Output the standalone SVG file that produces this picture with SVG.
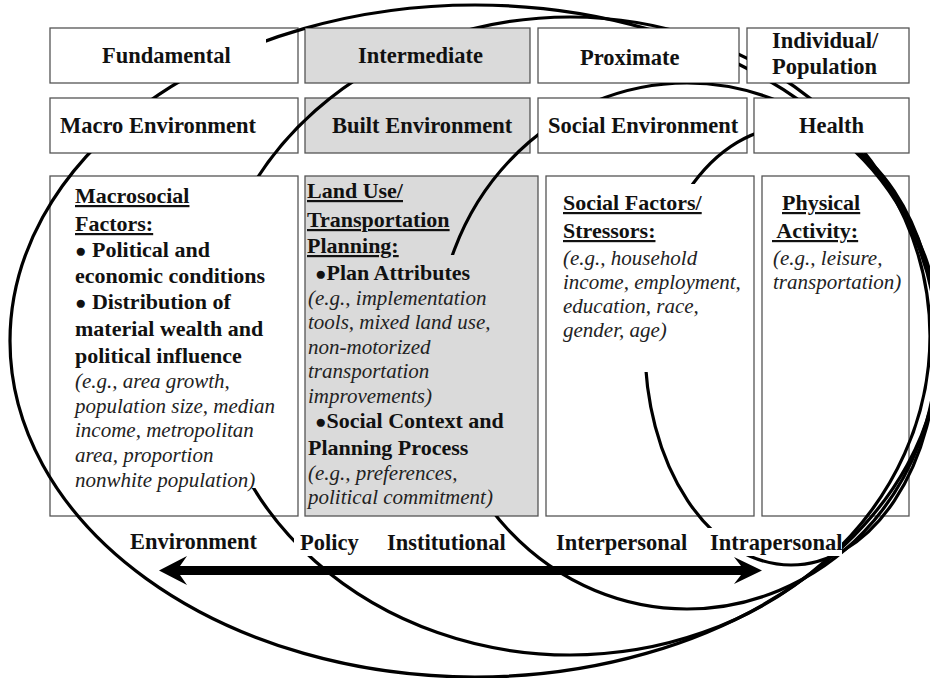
<svg xmlns="http://www.w3.org/2000/svg" width="930" height="678" viewBox="0 0 930 678">
<style>
.box{fill:#fff;stroke:#555;stroke-width:1.3}
.grey{fill:#dadada}
text{font-family:"Liberation Serif","Times New Roman",serif;fill:#111}
.h{font-weight:bold;font-size:22.5px}
.b{font-weight:bold;font-size:22px}
.u{text-decoration:underline}
.i{font-style:italic;font-size:21px;fill:#222}
.bl{font-size:19px}
.ring{fill:none;stroke:#000;stroke-width:3.2}
</style>
<defs>
<mask id="hide" maskUnits="userSpaceOnUse" x="0" y="0" width="930" height="678">
<rect x="0" y="0" width="930" height="678" fill="#fff"/>
<g fill="#000">
<rect x="50" y="28" width="216" height="55"/>
<rect x="266" y="45" width="32" height="38"/>
<rect x="305" y="28" width="225" height="55"/>
<rect x="538" y="28" width="201" height="55"/>
<rect x="747" y="28" width="162" height="55"/>
<rect x="50" y="98" width="220" height="55"/>
<rect x="338" y="98" width="176" height="55"/>
<rect x="538" y="98" width="180" height="55"/>
<rect x="754" y="98" width="155" height="55"/>
<rect x="80" y="176" width="218" height="312"/>
<rect x="80" y="488" width="168" height="28"/>
<rect x="305" y="255" width="233" height="261"/>
<rect x="546" y="184" width="208" height="188"/>
<rect x="294" y="532" width="68" height="24"/>
<rect x="706" y="528" width="136" height="28"/>
</g>
</mask>
</defs>

<g id="fundamental"><rect class="box" x="50" y="28" width="248" height="55"/><text class="h" x="102" y="63">Fundamental</text></g>
<g id="intermediate"><rect class="box grey" x="305" y="28" width="225" height="55"/><text class="h" x="358" y="63">Intermediate</text></g>
<g id="proximate"><rect class="box" x="538" y="28" width="201" height="55"/><text class="h" x="580" y="65">Proximate</text></g>
<g id="individual"><rect class="box" x="747" y="28" width="162" height="55"/><text class="h" x="772" y="48">Individual/</text><text class="h" x="772" y="74">Population</text></g>

<g id="macro-env"><rect class="box" x="50" y="98" width="248" height="55"/><text class="h" x="60" y="133">Macro Environment</text></g>
<g id="built-env"><rect class="box grey" x="305" y="98" width="225" height="55"/><text class="h" x="332" y="133">Built Environment</text></g>
<g id="social-env"><rect class="box" x="538" y="98" width="209" height="55"/><text class="h" x="548" y="133">Social Environment</text></g>
<g id="health"><rect class="box" x="754" y="98" width="155" height="55"/><text class="h" x="799" y="133">Health</text></g>

<g id="macrosocial"><rect class="box" x="50" y="176" width="248" height="340"/>
<text class="b u" x="75" y="203">Macrosocial</text>
<text class="b u" x="75" y="231">Factors:</text>
<text class="b" x="75" y="257"><tspan class="bl">●</tspan> Political and</text>
<text class="b" x="75" y="283">economic conditions</text>
<text class="b" x="75" y="309"><tspan class="bl">●</tspan> Distribution of</text>
<text class="b" x="75" y="336">material wealth and</text>
<text class="b" x="75" y="363">political influence</text>
<text class="i" x="75" y="388">(e.g., area growth,</text>
<text class="i" x="75" y="413">population size, median</text>
<text class="i" x="75" y="437">income, metropolitan</text>
<text class="i" x="75" y="462">area, proportion</text>
<text class="i" x="75" y="487">nonwhite population)</text>
</g>

<g id="land-use"><rect class="box grey" x="305" y="176" width="233" height="340"/>
<text class="b u" x="307" y="198">Land Use/</text>
<text class="b u" x="307" y="227">Transportation</text>
<text class="b u" x="307" y="253">Planning:</text>
<text class="b" x="315" y="280"><tspan class="bl">●</tspan>Plan Attributes</text>
<text class="i" x="308" y="305">(e.g., implementation</text>
<text class="i" x="308" y="329">tools, mixed land use,</text>
<text class="i" x="308" y="354">non-motorized</text>
<text class="i" x="308" y="378">transportation</text>
<text class="i" x="308" y="403">improvements)</text>
<text class="b" x="315" y="428"><tspan class="bl">●</tspan>Social Context and</text>
<text class="b" x="308" y="455">Planning Process</text>
<text class="i" x="308" y="480">(e.g., preferences,</text>
<text class="i" x="308" y="504">political commitment)</text>
</g>

<g id="social-factors"><rect class="box" x="546" y="176" width="208" height="340"/>
<text class="b u" x="563" y="210">Social Factors/</text>
<text class="b u" x="563" y="238">Stressors:</text>
<text class="i" x="563" y="265">(e.g., household</text>
<text class="i" x="563" y="289">income, employment,</text>
<text class="i" x="563" y="313">education, race,</text>
<text class="i" x="563" y="337">gender, age)</text>
</g>

<g id="physical-activity"><rect class="box" x="762" y="176" width="147" height="340"/>
<text class="b u" x="782" y="210">Physical</text>
<text class="b u" x="772" y="238" xml:space="preserve"> Activity:</text>
<text class="i" x="773" y="265">(e.g., leisure,</text>
<text class="i" x="773" y="289">transportation)</text>
</g>

<g id="connectors">
<g mask="url(#hide)">
<ellipse id="ring-fundamental" class="ring" cx="475" cy="341" rx="465" ry="336"/>
<ellipse id="ring-intermediate" class="ring" cx="570" cy="336" rx="360" ry="319"/>
<ellipse id="ring-proximate" class="ring" cx="687" cy="346" rx="250" ry="263"/>
<ellipse id="ring-individual" class="ring" cx="791" cy="346" rx="146" ry="219"/>
</g>
<path id="scale-arrow" d="M159,570.5 L187,556 L180,566 L741,566 L734,557 L762,570.5 L734,584 L741,575 L180,575 L187,585 Z" fill="#000"/>
</g>

<g id="level-environment"><text class="h" x="130" y="549">Environment</text></g>
<g id="level-policy"><text class="h" x="300" y="550">Policy</text></g>
<g id="level-institutional"><text class="h" x="387" y="550">Institutional</text></g>
<g id="level-interpersonal"><text class="h" x="556" y="550">Interpersonal</text></g>
<g id="level-intrapersonal"><text class="h" x="710" y="550">Intrapersonal</text></g>
</svg>
